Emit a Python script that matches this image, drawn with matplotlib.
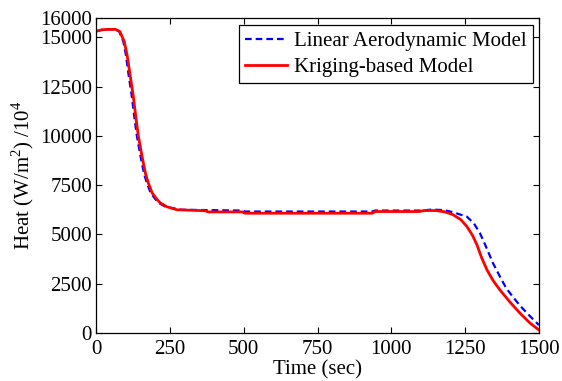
import matplotlib
matplotlib.use("Agg")
import matplotlib.pyplot as plt

# Heat flux histories (W/m^2 / 10^4) versus time (sec)
t_linear = [0, 20, 40, 65, 78, 92, 101, 110, 121, 130, 138, 150, 162, 172, 185,
            200, 212, 235, 270, 290, 495, 505, 935, 945, 1100, 1138, 1180, 1210,
            1235, 1256, 1280, 1300, 1320, 1344, 1370, 1390, 1412, 1435, 1460,
            1480, 1500]
q_linear = [15300, 15380, 15400, 15400, 15300, 14800, 14100, 13100, 12000,
            10900, 10000, 9000, 8100, 7600, 7100, 6800, 6600, 6400, 6300, 6250,
            6210, 6160, 6160, 6210, 6210, 6260, 6230, 6120, 6000, 5900, 5550,
            5070, 4400, 3550, 2800, 2250, 1830, 1400, 1000, 700, 400]

t_kriging = [0, 20, 40, 65, 80, 95, 105, 115, 126, 135, 143, 155, 167, 177, 190,
             205, 217, 240, 274, 370, 380, 495, 505, 935, 945, 1095, 1110, 1150,
             1180, 1209, 1235, 1256, 1275, 1290, 1305, 1324, 1345, 1368, 1400,
             1436, 1470, 1500]
q_kriging = [15300, 15380, 15400, 15400, 15300, 14800, 14100, 13100, 12000,
             10900, 10000, 9000, 8100, 7600, 7100, 6800, 6600, 6400, 6250, 6200,
             6140, 6140, 6075, 6075, 6160, 6160, 6210, 6210, 6150, 6000, 5750,
             5400, 4950, 4470, 3850, 3200, 2650, 2180, 1600, 1000, 500, 150]

x_ticks = [0, 250, 500, 750, 1000, 1250, 1500]
y_ticks = [0, 2500, 5000, 7500, 10000, 12500, 15000, 16000]

plt.rcParams["font.family"] = ["Liberation Serif", "DejaVu Serif"]
plt.rcParams["mathtext.fontset"] = "custom"
plt.rcParams["mathtext.rm"] = "Liberation Serif"

fig = plt.figure(figsize=(5.62, 3.81), dpi=100)
ax = fig.add_axes([0.171, 0.126, 0.788, 0.828])

ax.plot(t_linear, q_linear, color="#0000ff", lw=1.6, ls=(0, (3, 1.8)),
        label="Linear Aerodynamic Model")
ax.plot(t_kriging, q_kriging, color="#ff0000", lw=2.0,
        label="Kriging-based Model")

ax.set_xlim(0, 1500)
ax.set_ylim(0, 16000)
ax.set_xticks(x_ticks)
ax.set_yticks(y_ticks)
ax.tick_params(direction="in", length=4, width=0.8, top=True, right=True,
               labelsize=15)
ax.tick_params(axis="x", pad=5)
ax.tick_params(axis="y", pad=3)
for s in ax.spines.values():
    s.set_linewidth(0.9)

ax.set_xlabel("Time (sec)", fontsize=15, labelpad=1)
ax.set_ylabel(r"Heat (W/m$^2$) /10$^4$", fontsize=15, labelpad=3)

leg = ax.legend(loc="upper right", bbox_to_anchor=(0.986, 0.975), fontsize=15,
                frameon=True, fancybox=False, framealpha=1, edgecolor="black",
                handlelength=2.0, handletextpad=0.35, borderpad=0.3,
                labelspacing=0.3, borderaxespad=0)
leg.get_frame().set_linewidth(0.9)

fig.savefig("out.png", dpi=100)
